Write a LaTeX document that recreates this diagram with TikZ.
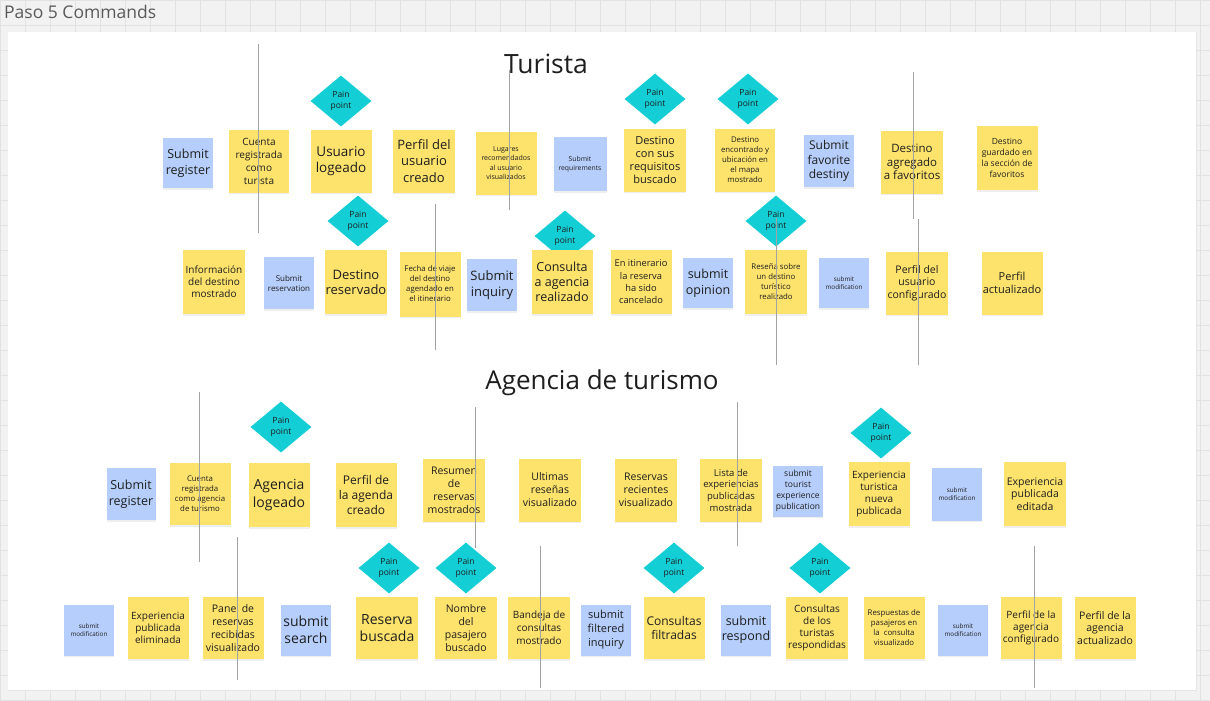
\documentclass[tikz,border=0pt]{standalone}
\usepackage{fontspec}
\setmainfont{Open Sans}
\usetikzlibrary{shapes.geometric,shadows}
\definecolor{yel}{HTML}{FDE36C}
\definecolor{blu}{HTML}{B6CEFB}
\definecolor{cya}{HTML}{14CED5}
\definecolor{bgc}{HTML}{F2F2F2}
\definecolor{gridc}{HTML}{E2E2E2}
\definecolor{txt}{HTML}{1E1E1E}
\definecolor{vline}{HTML}{A3A3A3}
\newcommand\fs[2]{\fontsize{#1pt}{#2pt}\selectfont}
\tikzset{
  note/.style={rectangle, inner sep=1pt, align=center, text=txt,
    drop shadow={shadow xshift=0pt, shadow yshift=-1.5pt, opacity=0.13}},
  ynote/.style={note, fill=yel},
  bnote/.style={note, fill=blu},
  pain/.style={diamond, fill=cya, minimum width=61pt, minimum height=51pt,
    inner sep=0pt, align=center, text=txt, font=\fs{8.5}{11.5}},
  vl/.style={draw=vline, line width=0.8pt},
  sz/.style 2 args={minimum width=#1pt, minimum height=#2pt}
}
\begin{document}
\begin{tikzpicture}[x=1pt,y=-1pt]
\useasboundingbox (0,0) rectangle (1210,701);
\fill[bgc] (0,0) rectangle (1210,701);
\foreach \i in {0,...,48} \draw[gridc, line width=0.6pt] (\i*25+0.5,0) -- (\i*25+0.5,701);
\foreach \j in {0,...,28} \draw[gridc, line width=0.6pt] (0,\j*25+0.5) -- (1210,\j*25+0.5);
\node[anchor=base west, text=black!65, font=\fs{17.5}{20}, inner sep=0pt] (hdr) at (4,19) {Paso 5 Commands};
\fill[black!10] (8,32.8) rectangle (1196.8,690.8);
\fill[white] (8,32) rectangle (1196,690);

\node[font=\fs{26.5}{30}, text=txt] (t1) at (546,64) {Turista};
\node[font=\fs{26}{30}, text=txt] (t2) at (602,383) {Agencia de turismo};

% ---------- Row 1 ----------
\node[pain] (p1) at (341,101) {Pain\\point};
\node[pain] (p2) at (655,99) {Pain\\point};
\node[pain] (p3) at (748,99) {Pain\\point};
\node[bnote, sz={50}{50}, font=\fs{12.5}{16}] (a1) at (188,163) {Submit\\register};
\node[ynote, sz={60}{63}, font=\fs{10}{13}] (a2) at (259,161) {Cuenta\\registrada\\como\\turista};
\node[ynote, sz={61}{63}, font=\fs{13.5}{16}] (a3) at (341,161) {Usuario\\logeado};
\node[ynote, sz={62}{63}, font=\fs{13}{16.5}] (a4) at (424,161) {Perfil del\\usuario\\creado};
\node[ynote, sz={61}{63}, font=\fs{7}{9.3}] (a5) at (506,163) {Lugares\\recomendados\\al usuario\\visualizados};
\node[bnote, sz={53}{54}, font=\fs{6.8}{9}] (a6) at (580,164) {Submit\\requirements};
\node[ynote, sz={62}{63}, font=\fs{11}{13}] (a7) at (655,160) {Destino\\con sus\\requisitos\\buscado};
\node[ynote, sz={60}{63}, font=\fs{7.8}{10}] (a8) at (745,160) {Destino\\encontrado y\\ubicación en\\el mapa\\mostrado};
\node[bnote, sz={50}{52}, font=\fs{12}{14.7}] (a9) at (829,161) {Submit\\favorite\\destiny};
\node[ynote, sz={62}{63}, font=\fs{11.5}{13.8}] (a10) at (912,162) {Destino\\agregado\\a favoritos};
\node[ynote, sz={61}{64}, font=\fs{8.5}{11}] (a11) at (1007,158) {Destino\\guardado en\\la sección de\\favoritos};

% ---------- Row 2 ----------
\node[pain] (p4) at (358,221) {Pain\\point};
\node[pain] (p5) at (565,236) {Pain\\point};
\node[pain] (p6) at (776,221) {Pain\\point};
\node[ynote, sz={62}{64}, font=\fs{10}{12}] (b1) at (214,282) {Información\\del destino\\mostrado};
\node[bnote, sz={50}{52}, font=\fs{8}{10}] (b2) at (289,283) {Submit\\reservation};
\node[ynote, sz={61}{64}, font=\fs{13}{15.3}] (b3) at (356,282) {Destino\\reservado};
\node[ynote, sz={61}{65}, font=\fs{7.8}{10}] (b4) at (430,284) {Fecha de viaje\\del destino\\agendado en\\el itinerario};
\node[bnote, sz={50}{52}, font=\fs{13}{16}] (b5) at (492,285) {Submit\\inquiry};
\node[ynote, sz={61}{64}, font=\fs{12.5}{15}] (b6) at (562,282) {Consulta\\a agencia\\realizado};
\node[ynote, sz={61}{64}, font=\fs{9.3}{12.3}] (b7) at (641,282) {En itinerario\\la reserva\\ha sido\\cancelado};
\node[bnote, sz={50}{50}, font=\fs{12.5}{15.7}] (b8) at (708,283) {submit\\opinion};
\node[ynote, sz={62}{64}, font=\fs{7.8}{10}] (b9) at (776,282) {Reseña sobre\\un destino\\turístico\\realizado};
\node[bnote, sz={50}{50}, font=\fs{6.3}{8}] (b10) at (844,283) {submit\\modification};
\node[ynote, sz={62}{63}, font=\fs{10.5}{12.5}] (b11) at (917,283) {Perfil del\\usuario\\configurado};
\node[ynote, sz={61}{63}, font=\fs{11}{13}] (b12) at (1012,283) {Perfil\\actualizado};

% ---------- Row 3 ----------
\node[pain] (p7) at (281,427) {Pain\\point};
\node[pain] (p8) at (881,433) {Pain\\point};
\node[bnote, sz={49}{52}, font=\fs{12.5}{15.7}] (c1) at (131,494) {Submit\\register};
\node[ynote, sz={61}{62}, font=\fs{7.8}{10}] (c2) at (200,494) {Cuenta\\registrada\\como agencia\\de turismo};
\node[ynote, sz={61}{64}, font=\fs{14}{17.3}] (c3) at (279,495) {Agencia\\logeado};
\node[ynote, sz={61}{64}, font=\fs{12}{15}] (c4) at (366,495) {Perfil de\\la agenda\\creado};
\node[ynote, sz={62}{63}, font=\fs{10.5}{13}] (c5) at (454,490) {Resumen\\de\\reservas\\mostrados};
\node[ynote, sz={62}{63}, font=\fs{10.5}{13}] (c6) at (550,490) {Ultimas\\reseñas\\visualizado};
\node[ynote, sz={62}{63}, font=\fs{10.5}{13}] (c7) at (646,490) {Reservas\\recientes\\visualizado};
\node[ynote, sz={62}{63}, font=\fs{9.5}{11.7}] (c8) at (731,490) {Lista de\\experiencias\\publicadas\\mostrada};
\node[bnote, sz={50}{51}, font=\fs{8.5}{11}] (c9) at (798,491) {submit\\tourist\\experience\\publication};
\node[ynote, sz={61}{64}, font=\fs{10}{12}] (c10) at (879,494) {Experiencia\\turistica\\nueva\\publicada};
\node[bnote, sz={50}{53}, font=\fs{6.3}{8}] (c11) at (957,494) {submit\\modification};
\node[ynote, sz={62}{64}, font=\fs{10.5}{12.8}] (c12) at (1035,494) {Experiencia\\publicada\\editada};

% ---------- Row 4 ----------
\node[pain] (p9) at (389,568) {Pain\\point};
\node[pain] (p10) at (466,568) {Pain\\point};
\node[pain] (p11) at (674,568) {Pain\\point};
\node[pain] (p12) at (820,568) {Pain\\point};
\node[bnote, sz={50}{51}, font=\fs{6.3}{8}] (d1) at (89,630) {submit\\modification};
\node[ynote, sz={61}{62}, font=\fs{10}{12.3}] (d2) at (158,628) {Experiencia\\publicada\\eliminada};
\node[ynote, sz={61}{62}, font=\fs{10.5}{13}] (d3) at (233,628) {Panel de\\reservas\\recibidas\\visualizado};
\node[bnote, sz={50}{51}, font=\fs{14}{17}] (d4) at (306,630) {submit\\search};
\node[ynote, sz={62}{62}, font=\fs{14}{17}] (d5) at (387,628) {Reserva\\buscada};
\node[ynote, sz={62}{62}, font=\fs{10.5}{13}] (d6) at (466,628) {Nombre\\del\\pasajero\\buscado};
\node[ynote, sz={62}{62}, font=\fs{10}{13}] (d7) at (539,628) {Bandeja de\\consultas\\mostrado};
\node[bnote, sz={50}{51}, font=\fs{11}{14}] (d8) at (606,630) {submit\\filtered\\inquiry};
\node[ynote, sz={61}{62}, font=\fs{12}{14.7}] (d9) at (674,628) {Consultas\\filtradas};
\node[bnote, sz={50}{51}, font=\fs{12.5}{15}] (d10) at (746,630) {submit\\respond};
\node[ynote, sz={62}{62}, font=\fs{10}{12}] (d11) at (817,628) {Consultas\\de los\\turistas\\respondidas};
\node[ynote, sz={61}{62}, font=\fs{7.8}{10}] (d12) at (894,628) {Respuestas de\\pasajeros en\\la~~consulta\\visualizado};
\node[bnote, sz={50}{51}, font=\fs{6.3}{8}] (d13) at (963,630) {submit\\modification};
\node[ynote, sz={61}{62}, font=\fs{10}{12}] (d14) at (1031,628) {Perfil de la\\agencia\\configurado};
\node[ynote, sz={61}{62}, font=\fs{10.5}{12.5}] (d15) at (1105,628) {Perfil de la\\agencia\\actualizado};

% ---------- vertical separator lines ----------
\coordinate (l1a) at (258,44);  \coordinate (l1b) at (258,233);
\coordinate (l2a) at (509,70);  \coordinate (l2b) at (509,210);
\coordinate (l3a) at (913,72);  \coordinate (l3b) at (913,219);
\coordinate (l4a) at (435,204); \coordinate (l4b) at (435,350);
\coordinate (l5a) at (776,218); \coordinate (l5b) at (776,365);
\coordinate (l6a) at (918,219); \coordinate (l6b) at (918,365);
\coordinate (l7a) at (199,392); \coordinate (l7b) at (199,562);
\coordinate (l8a) at (475,407); \coordinate (l8b) at (475,548);
\coordinate (l9a) at (737,402); \coordinate (l9b) at (737,546);
\coordinate (l10a) at (237,537); \coordinate (l10b) at (237,680);
\coordinate (l11a) at (540,546); \coordinate (l11b) at (540,688);
\coordinate (l12a) at (1034,546); \coordinate (l12b) at (1034,688);
\foreach \k in {1,...,12} \draw[vl] (l\k a) -- (l\k b);
\end{tikzpicture}
\end{document}
